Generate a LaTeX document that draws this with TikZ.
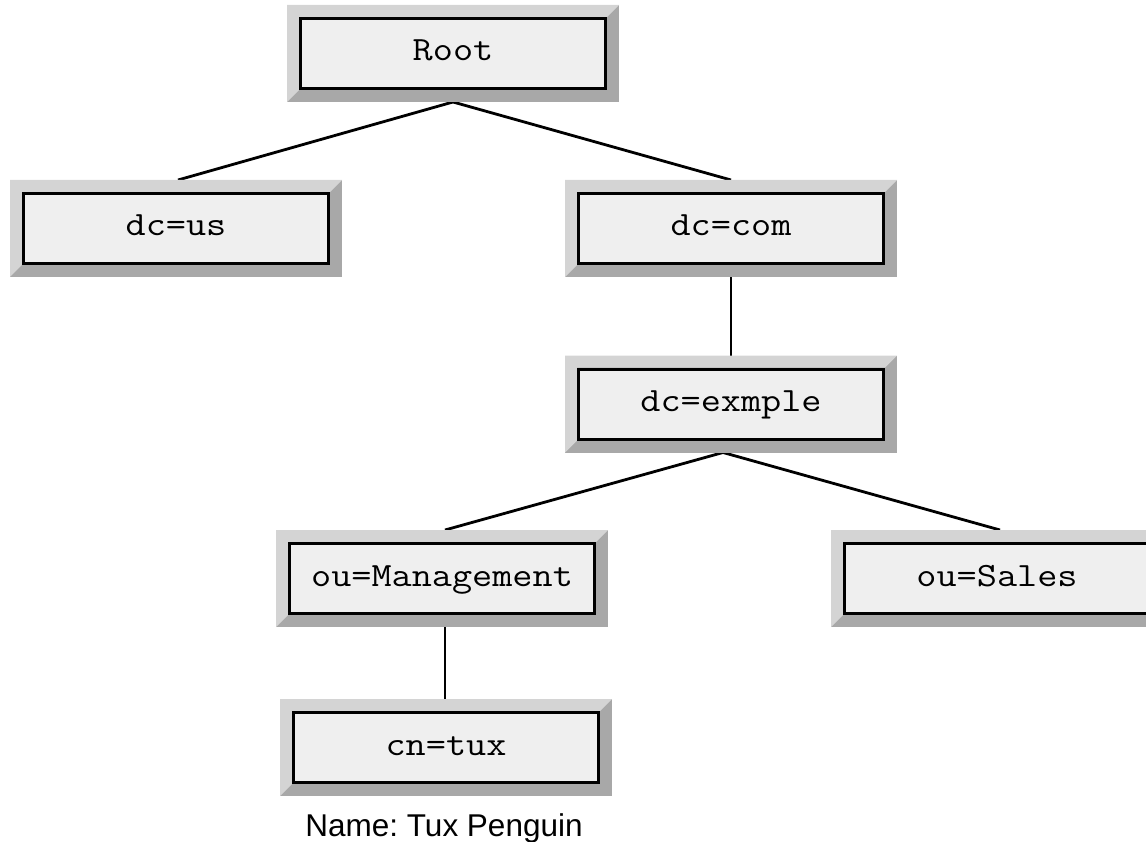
\documentclass[tikz,border=0pt]{standalone}
\usepackage{fontspec}
\setsansfont{Liberation Sans}
\newfontfamily\boxfont{Latin Modern Mono}[FakeStretch=1.15]
\usetikzlibrary{backgrounds}
\definecolor{bevellight}{HTML}{D4D4D4}
\definecolor{beveldark}{HTML}{A8A8A8}
\definecolor{boxfill}{HTML}{EFEFEF}
\frenchspacing
\tikzset{
  entry/.style={draw=black, line width=3pt, fill=boxfill,
    minimum width=305pt, minimum height=70pt, inner sep=0pt,
    text height=15pt, text depth=0pt,
    font=\boxfont\fontsize{34}{34}\selectfont},
  link/.style={line width=2.8pt, black},
  caption/.style={font=\sffamily\fontsize{31.5}{31.5}\selectfont, anchor=base, inner sep=0pt},
}
\begin{document}
\begin{tikzpicture}[x=1pt, y=-1pt]
\useasboundingbox (0,0) rectangle (1146,842);

% directory entries
\node[entry] (root)   at (453,53.5)  {Root};
\node[entry] (dcus)   at (176,228.5) {dc=us};
\node[entry] (dccom)  at (731,228.5) {dc=com};
\node[entry] (exmple) at (731,404)   {dc=exmple};
\node[entry] (mgmt)   at (442,578.5) {ou=Management};
\node[entry] (sales)  at (997,578.5) {ou=Sales};
\node[entry] (tux)    at (446,747.5) {cn=tux};
\node[caption] (tuxname) at (444,836) {Name: Tux Penguin};

% edge end points sit on the outer rim of each bevel frame
\coordinate (rootB)  at ([shift={(0,12)}]root.south);
\coordinate (dcusT)  at ([shift={(2,-12)}]dcus.north);
\coordinate (dccomT) at ([shift={(0,-12)}]dccom.north);
\coordinate (dccomB) at ([shift={(0,12)}]dccom.south);
\coordinate (exmT)   at ([shift={(0,-12)}]exmple.north);
\coordinate (fork)   at ([shift={(-8,12)}]exmple.south);
\coordinate (mgmtT)  at ([shift={(3,-12)}]mgmt.north);
\coordinate (mgmtB)  at ([shift={(3,12)}]mgmt.south);
\coordinate (salesT) at ([shift={(3,-12)}]sales.north);
\coordinate (tuxT)   at ([shift={(-1,-12)}]tux.north);

\begin{scope}[on background layer]
  % tree edges
  \draw[link] (rootB) -- (dcusT);
  \draw[link] (rootB) -- (dccomT);
  \draw[link] (dccomB) -- (exmT);
  \draw[link] (fork) -- (mgmtT);
  \draw[link] (fork) -- (salesT);
  \draw[link] (mgmtB) -- (tuxT);
  % raised bevel frames around every entry
  \foreach \n in {root,dcus,dccom,exmple,mgmt,sales,tux}{
    \fill[beveldark] ([shift={(-12,-12)}]\n.north west) rectangle ([shift={(12,12)}]\n.south east);
    \fill[bevellight] ([shift={(-12,12)}]\n.south west) -- ([shift={(-12,-12)}]\n.north west)
      -- ([shift={(12,-12)}]\n.north east) -- (\n.north east) -- (\n.north west)
      -- (\n.south west) -- cycle;
  }
\end{scope}
\end{tikzpicture}
\end{document}
